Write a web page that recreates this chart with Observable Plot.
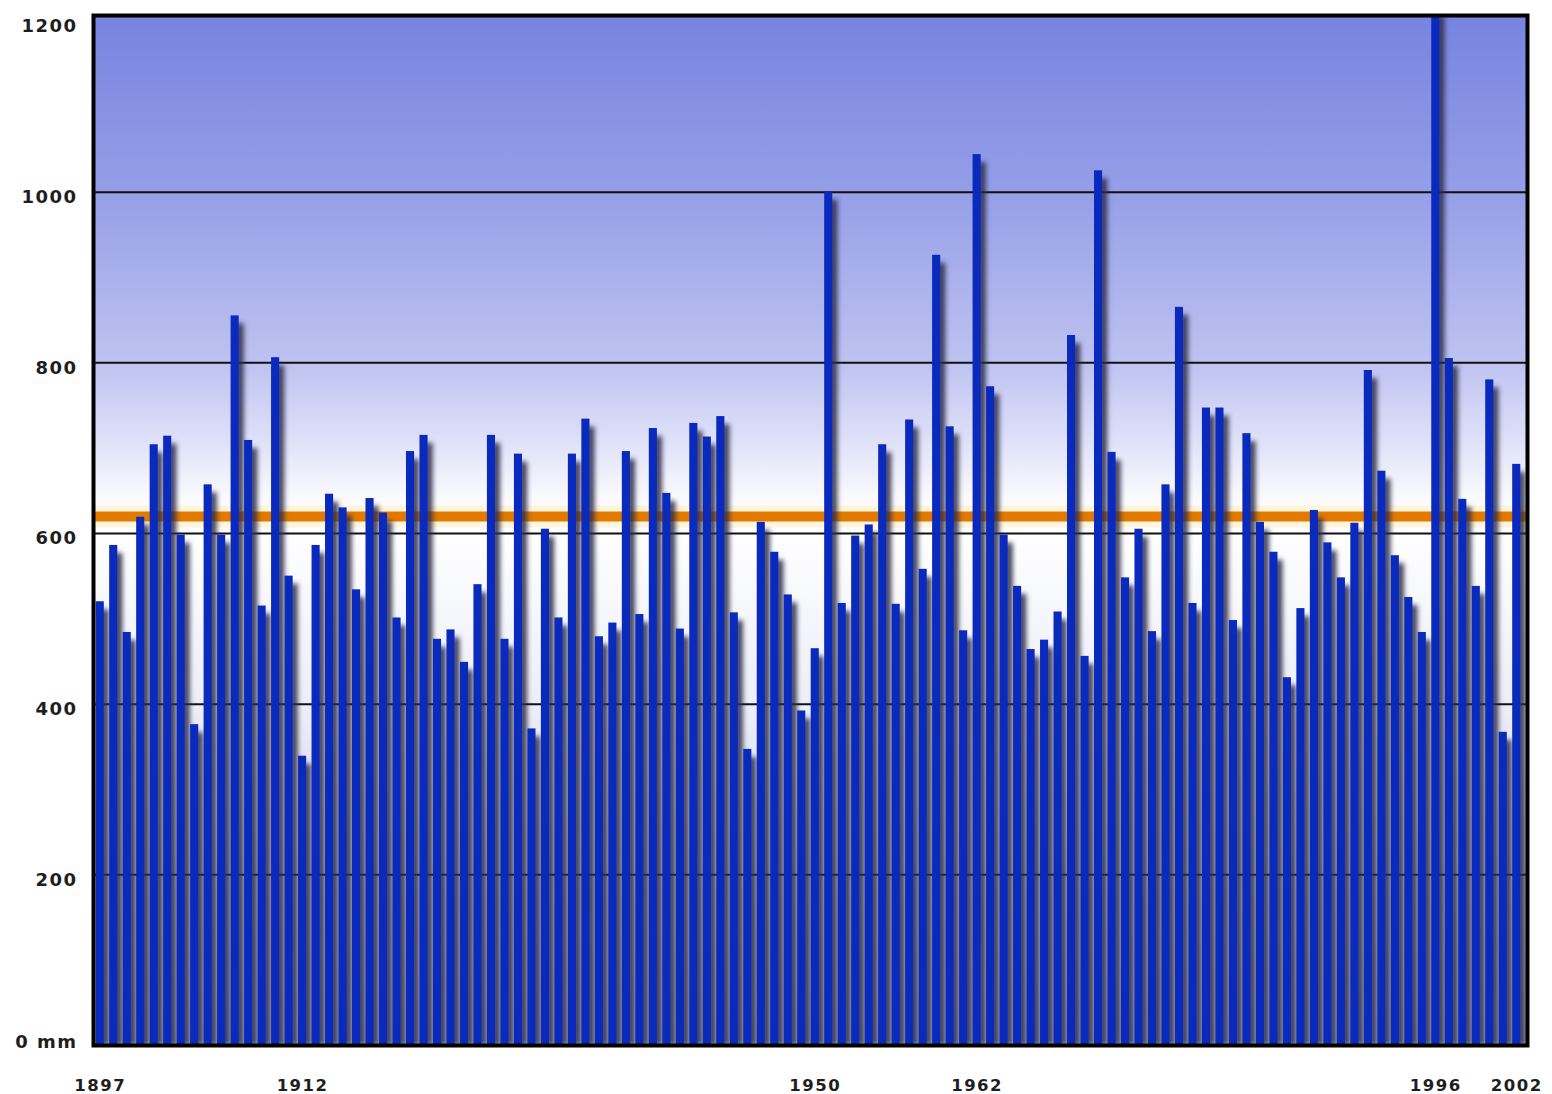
<!DOCTYPE html>
<html>
<head>
<meta charset="utf-8">
<script src="https://cdn.jsdelivr.net/npm/d3@7"></script>
<script src="https://cdn.jsdelivr.net/npm/@observablehq/plot@0.6"></script>
<style>
  html, body { margin: 0; padding: 0; background: #fff; overflow: hidden; }
  #chart svg { display: block; }
  #chart text { letter-spacing: 1.5px; }
</style>
</head>
<body>
<div id="chart"></div>
<script>
// Years (categories)
const years = [
  1897, 1898, 1899, 1900, 1901, 1902, 1903, 1904, 1905, 1906,
  1907, 1908, 1909, 1910, 1911, 1912, 1913, 1914, 1915, 1916,
  1917, 1918, 1919, 1920, 1921, 1922, 1923, 1924, 1925, 1926,
  1927, 1928, 1929, 1930, 1931, 1932, 1933, 1934, 1935, 1936,
  1937, 1938, 1939, 1940, 1941, 1942, 1943, 1944, 1945, 1946,
  1947, 1948, 1949, 1950, 1951, 1952, 1953, 1954, 1955, 1956,
  1957, 1958, 1959, 1960, 1961, 1962, 1963, 1964, 1965, 1966,
  1967, 1968, 1969, 1970, 1971, 1972, 1973, 1974, 1975, 1976,
  1977, 1978, 1979, 1980, 1981, 1982, 1983, 1984, 1985, 1986,
  1987, 1988, 1989, 1990, 1991, 1992, 1993, 1994, 1995, 1996,
  1997, 1998, 1999, 2000, 2001, 2002
];

// Annual precipitation in mm
const precipitation = [
  520, 586, 484, 619, 704, 714, 598, 376, 657, 598,
  855, 709, 515, 806, 550, 339, 586, 646, 630, 534,
  641, 624, 501, 696, 715, 476, 487, 449, 540, 715,
  476, 693, 371, 605, 501, 693, 734, 479, 495, 696,
  505, 723, 647, 488, 729, 713, 737, 507, 347, 613,
  578, 528, 392, 465, 1000, 518, 597, 610, 704, 517,
  733, 558, 926, 725, 486, 1044, 772, 598, 538, 464,
  475, 508, 832, 456, 1025, 695, 548, 605, 485, 657,
  865, 518, 747, 747, 498, 717, 613, 578, 431, 512,
  627, 589, 548, 612, 791, 673, 574, 525, 484, 1215,
  805, 640, 538, 780, 367, 681
];

// Long-term mean line (mm)
const meanLine = [620];

// Axis ticks
const yTickLabels = [200, 400, 600, 800, 1000, 1200];
const yZeroTick = [0];
const gridValues = [200, 400, 600, 800, 1000];
const xTickLabels = [1897, 1912, 1950, 1962, 1996, 2002];

const data = years.map((year, i) => ({year, value: precipitation[i]}));

const chart = Plot.plot({
  width: 1552,
  height: 1094,
  marginLeft: 93,
  marginRight: 25,
  marginTop: 15,
  marginBottom: 49,
  style: {
    fontFamily: "'DejaVu Sans', sans-serif",
    fontWeight: "bold",
    background: "#ffffff",
    color: "#1e1e1e"
  },
  x: {type: "band", domain: years, paddingInner: 0.4, paddingOuter: 0.2, insetRight: 4, label: null},
  y: {domain: [0, 1207], label: null},
  marks: [
    Plot.frame({fill: "url(#bgGradient)"}),
    Plot.ruleY(gridValues, {stroke: "#111", strokeWidth: 2}),
    Plot.ruleY(meanLine, {stroke: "#fff2cf", strokeWidth: 22, strokeOpacity: 0.7}),
    Plot.ruleY(meanLine, {stroke: "#e27a00", strokeWidth: 10}),
    Plot.barY(data, {
      x: "year", y: "value",
      fill: "#2e2e4a", fillOpacity: 0.9,
      dx: 5, dy: 8, insetBottom: 8,
      clip: true, ariaLabel: "bar-shadow",
      imageFilter: "blur(2.5px)"
    }),
    Plot.barY(data, {x: "year", y: "value", fill: "#0a29bd", clip: true}),
    Plot.frame({stroke: "#000", strokeWidth: 4}),
    Plot.axisY({ticks: yTickLabels, tickSize: 0, tickPadding: 16, dy: 5, fontSize: 18, label: null, tickFormat: d => String(d)}),
    Plot.axisY({ticks: yZeroTick, tickSize: 0, tickPadding: 16, dy: -3, fontSize: 18, label: null, tickFormat: () => "0 mm"}),
    Plot.axisX({ticks: xTickLabels, tickSize: 0, tickPadding: 34, fontSize: 16.5, label: null, tickFormat: d => String(d)})
  ]
});

const svgEl = chart.tagName.toLowerCase() === "svg" ? chart : chart.querySelector("svg");
const svg = d3.select(svgEl);
const defs = svg.insert("defs", ":first-child");
const grad = defs.append("linearGradient")
  .attr("id", "bgGradient")
  .attr("x1", 0).attr("y1", 0).attr("x2", 0).attr("y2", 1);
[
  [0.00, "#7784df"],
  [0.17, "#959ee7"],
  [0.34, "#bfc3f1"],
  [0.42, "#e2e4f9"],
  [0.47, "#fbfbfe"],
  [0.50, "#ffffff"],
  [0.67, "#eceef8"],
  [1.00, "#b8bcde"]
].forEach(([o, c]) => grad.append("stop").attr("offset", o).attr("stop-color", c));

// Soft drop shadow for the bars (CSS filter on the shadow mark's group)
svg.selectAll('[aria-label="bar-shadow"]').style("filter", "blur(2.5px)");

document.getElementById("chart").appendChild(chart);
</script>
</body>
</html>
